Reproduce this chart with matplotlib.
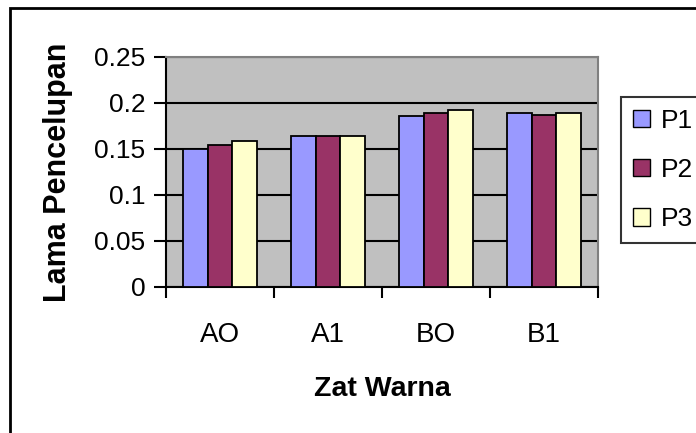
import numpy as np
import matplotlib
matplotlib.use("Agg")
import matplotlib.pyplot as plt
from matplotlib.patches import Rectangle

plt.rcParams['font.family'] = ['Liberation Sans', 'DejaVu Sans']

# dye types and dipping time per treatment
categories = ["AO", "A1", "BO", "B1"]
p1 = [0.150, 0.164, 0.186, 0.189]
p2 = [0.154, 0.164, 0.189, 0.187]
p3 = [0.159, 0.164, 0.192, 0.189]
series_names = ["P1", "P2", "P3"]
yticks = [0, 0.05, 0.1, 0.15, 0.2, 0.25]
ytick_labels = ["0", "0.05", "0.1", "0.15", "0.2", "0.25"]

colors = ["#9999ff", "#993366", "#ffffcc"]

fig = plt.figure(figsize=(6.96, 4.33), dpi=100)
W, H = 696, 433
ax = fig.add_axes([166 / W, 1 - 287 / H, (598 - 166) / W, (287 - 57) / H])
ax.set_facecolor("#c0c0c0")

x = np.arange(len(categories))
bw = 0.229
for i, (vals, name) in enumerate(zip([p1, p2, p3], series_names)):
    ax.bar(x + (i - 1) * bw, vals, width=bw, color=colors[i],
           edgecolor="black", linewidth=1.3, label=name, zorder=3)

ax.set_xlim(-0.5, len(categories) - 0.5)
ax.set_ylim(0, 0.25)
ax.set_yticks(yticks)
ax.set_yticklabels(ytick_labels, fontsize=19)
ax.yaxis.grid(True, color="black", linewidth=1.5, zorder=1)
ax.set_axisbelow(True)

ax.set_xticks(x)
ax.set_xticklabels(categories, fontsize=20)
ax.set_xticks(np.arange(-0.5, len(categories)), minor=True)
ax.tick_params(axis="x", which="major", length=0, pad=25)
ax.tick_params(axis="x", which="minor", length=8, width=1.5, direction="out")
ax.tick_params(axis="y", length=9, width=1.5, direction="out", pad=6)

for side in ["top", "right"]:
    ax.spines[side].set_color("#808080")
    ax.spines[side].set_linewidth(1.5)
for side in ["left", "bottom"]:
    ax.spines[side].set_color("black")
    ax.spines[side].set_linewidth(1.5)

ax.set_xlabel("Zat Warna", fontsize=20.5, fontweight="bold", labelpad=20)
ax.set_ylabel("Lama Pencelupan", fontsize=22, fontweight="bold", labelpad=15)

leg = fig.legend(loc="upper left", bbox_to_anchor=(621 / W, 1 - 97 / H),
                 fontsize=19, frameon=True, fancybox=False, shadow=False,
                 handlelength=0.65, handleheight=0.65, handletextpad=0.4,
                 labelspacing=0.95, borderpad=0.45, borderaxespad=0)
leg.get_frame().set_edgecolor("black")
leg.get_frame().set_linewidth(1.5)
for h in leg.legend_handles:
    h.set_edgecolor("black")
    h.set_linewidth(1.0)

# outer chart frame
fig.patches.append(Rectangle((10 / W, -0.1), 1.2, 1 - 8 / H + 0.1,
                             transform=fig.transFigure, fill=False,
                             edgecolor="black", linewidth=2))

fig.savefig("out.png", dpi=100)
